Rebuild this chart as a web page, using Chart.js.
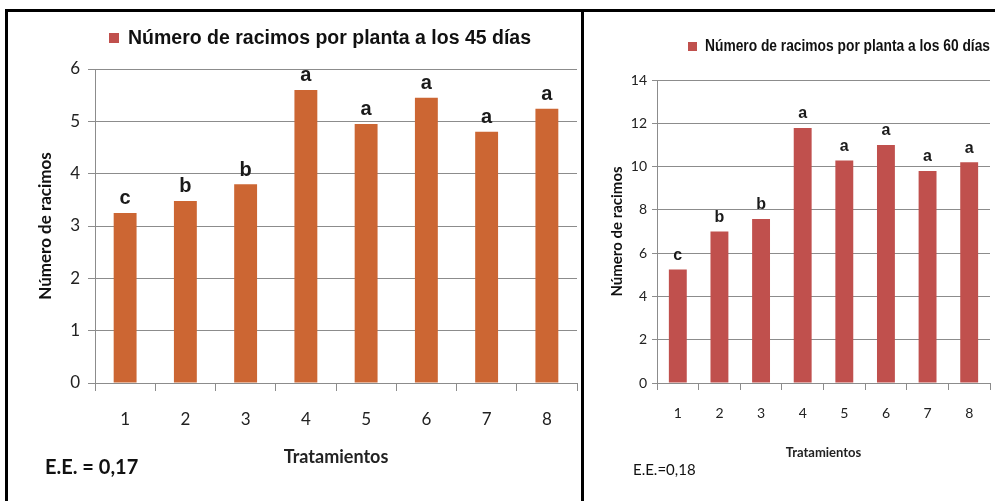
<!DOCTYPE html>
<html>
<head>
<meta charset="utf-8">
<script src="https://cdn.jsdelivr.net/npm/chart.js@4.4.1/dist/chart.umd.min.js"></script>
<style>
  body { margin: 0; background: #fff; }
  #page { position: relative; width: 995px; height: 501px; overflow: hidden; background: #fff; }
  .frame { position: absolute; left: 5px; top: 9px; width: 990px; height: 492px;
           border-top: 3px solid #000; border-left: 3px solid #000; box-sizing: border-box; }
  .divider { position: absolute; left: 581px; top: 9px; width: 3px; height: 492px; background: #000; }
  .panel { position: absolute; top: 12px; height: 489px; }
  #leftPanel { left: 8px; width: 572px; }
  #rightPanel { left: 585px; width: 410px; }
  .ee { position: absolute; color: #111; white-space: nowrap; }
  #eeLeft { left: 45px; top: 454px; font: bold 20px Lato, sans-serif; }
  #eeRight { left: 633px; top: 460px; font: 15px Lato, sans-serif; }
</style>
</head>
<body>
<div id="page">
  <div class="frame"></div>
  <div class="divider"></div>
  <div class="panel" id="leftPanel"><canvas id="chart45"></canvas></div>
  <div class="panel" id="rightPanel"><canvas id="chart60"></canvas></div>
  <div class="ee" id="eeLeft">E.E. = 0,17</div>
  <div class="ee" id="eeRight">E.E.=0,18</div>
</div>
<script>
const treatments = ["1", "2", "3", "4", "5", "6", "7", "8"];
const racimos45 = [3.25, 3.48, 3.80, 5.60, 4.95, 5.45, 4.80, 5.24];
const racimos60 = [5.25, 7.0, 7.58, 11.78, 10.28, 11.0, 9.8, 10.2];
const letters45 = ["c", "b", "b", "a", "a", "a", "a", "a"];
const letters60 = ["c", "b", "b", "a", "a", "a", "a", "a"];
const legend45 = "Número de racimos por planta a los 45 días";
const legend60 = "Número de racimos por planta a los 60 días";

const SANS = '"Liberation Sans", Arial, sans-serif';
const GRID = "#8c8c8c";

// letters over the bars + the legend line at the top
const annotate = {
  id: "annotate",
  afterDatasetsDraw(chart, args, opts) {
    const ctx = chart.ctx;
    const meta = chart.getDatasetMeta(0);
    ctx.save();
    ctx.fillStyle = "#1a1a1a";
    ctx.font = opts.letterFont;
    ctx.textAlign = "center";
    ctx.textBaseline = "bottom";
    meta.data.forEach((bar, i) => {
      ctx.fillText(opts.letters[i], bar.x, bar.y - opts.gap);
    });

    ctx.fillStyle = "#c0504d";
    ctx.fillRect(opts.boxX, opts.boxY, opts.boxSize, opts.boxSize);
    ctx.fillStyle = "#111";
    ctx.font = opts.legendFont;
    ctx.textAlign = "left";
    ctx.textBaseline = "middle";
    // the original uses a narrow face, so squeeze to its width
    ctx.fillText(opts.legendText, opts.textX, opts.textY, opts.textW);
    ctx.restore();
  },
};

function createChart(canvasId, values, cfg) {
  const ctx = document.getElementById(canvasId).getContext("2d");
  return new Chart(ctx, {
    type: "bar",
    data: {
      labels: treatments,
      datasets: [{
        label: cfg.legendText,
        data: values,
        backgroundColor: cfg.barColor,
        barPercentage: cfg.barPct,
        categoryPercentage: 1,
      }],
    },
    options: {
      responsive: true,
      maintainAspectRatio: false,
      animation: false,
      layout: { padding: { top: cfg.top, right: cfg.right, left: 0, bottom: 0 } },
      scales: {
        x: {
          grid: { offset: true, drawOnChartArea: false, color: GRID, tickLength: cfg.xTick },
          border: { color: GRID },
          ticks: { color: "#222", padding: cfg.xPad, font: cfg.tickFont },
          title: {
            display: true,
            text: "Tratamientos",
            color: "#222",
            font: cfg.xTitleFont,
            padding: { top: 0, bottom: cfg.xTitlePad },
          },
          afterFit: (s) => { s.height = 118; },
        },
        y: {
          min: 0,
          max: cfg.max,
          ticks: { stepSize: cfg.step, color: "#222", padding: cfg.yPad, font: cfg.tickFont },
          grid: { color: GRID, tickLength: cfg.yTick },
          border: { color: GRID },
          title: {
            display: true,
            text: "Número de racimos",
            color: "#111",
            font: cfg.yTitleFont,
            padding: { top: cfg.yTitlePad, bottom: 0 },
          },
          afterFit: (s) => { s.width = cfg.yWidth; },
        },
      },
      plugins: {
        legend: { display: false },
        tooltip: { enabled: false },
        annotate: {
          letters: cfg.letters,
          letterFont: cfg.letterFont,
          gap: cfg.gap,
          legendText: cfg.legendText,
          legendFont: cfg.legendFont,
          boxX: cfg.boxX, boxY: cfg.boxY, boxSize: cfg.boxSize,
          textX: cfg.textX, textY: cfg.textY, textW: cfg.textW,
        },
      },
    },
    plugins: [annotate],
  });
}

createChart("chart45", racimos45, {
  legendText: legend45,
  letters: letters45,
  barColor: "#cc6633",
  barPct: 0.38,
  top: 57, right: 3,
  max: 6, step: 1,
  yWidth: 87,
  xTick: 8, xPad: 18, yTick: 7, yPad: 8,
  tickFont: { family: "Lato", size: 17 },
  xTitleFont: { family: "Lato", size: 18, weight: "bold" },
  xTitlePad: 33,
  yTitleFont: { family: "Lato", size: 17, weight: "bold" },
  yTitlePad: 27,
  letterFont: "bold 20px " + SANS,
  gap: 4,
  legendFont: "bold 20px " + SANS,
  boxX: 101, boxY: 21, boxSize: 10,
  textX: 120, textY: 26, textW: 403,
});

createChart("chart60", racimos60, {
  legendText: legend60,
  letters: letters60,
  barColor: "#c0504d",
  barPct: 0.43,
  top: 68, right: 5,
  max: 14, step: 2,
  yWidth: 72,
  xTick: 7, xPad: 15, yTick: 5, yPad: 5,
  tickFont: { family: "Lato", size: 14 },
  xTitleFont: { family: "Lato", size: 13, weight: "bold" },
  xTitlePad: 40,
  yTitleFont: { family: "Lato", size: 15, weight: "bold" },
  yTitlePad: 23,
  letterFont: "bold 16px " + SANS,
  gap: 6,
  legendFont: "bold 16px " + SANS,
  boxX: 103, boxY: 30, boxSize: 9,
  textX: 120, textY: 35, textW: 285,
});
</script>
</body>
</html>
